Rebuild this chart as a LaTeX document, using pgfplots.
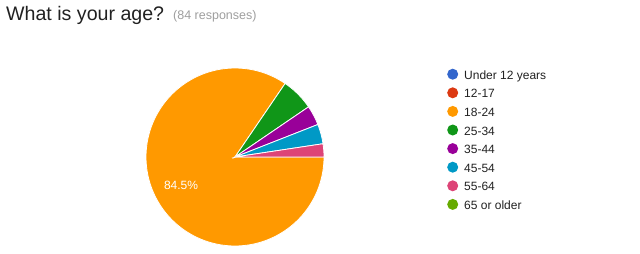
\documentclass[border=0pt]{standalone}
\usepackage{pgfplots}
\usepackage{pgfplotstable}
\pgfplotsset{compat=1.18}
\usepackage{fontspec}
\setmainfont{Liberation Sans}
\definecolor{cA}{HTML}{3366CC}
\definecolor{cB}{HTML}{DC3912}
\definecolor{cC}{HTML}{FF9900}
\definecolor{cD}{HTML}{109618}
\definecolor{cE}{HTML}{990099}
\definecolor{cF}{HTML}{0099C6}
\definecolor{cG}{HTML}{DD4477}
\definecolor{cH}{HTML}{66AA00}
\definecolor{txt}{HTML}{212121}
\definecolor{sub}{HTML}{9E9E9E}

% age group, number of responses
\pgfplotstableread{
label count
Under12 0
12-17 0
18-24 71
25-34 5
35-44 3
45-54 3
55-64 2
65plus 0
}\agedata

\pgfplotstablegetelem{2}{count}\of\agedata \let\nC\pgfplotsretval
\pgfplotstablegetelem{3}{count}\of\agedata \let\nD\pgfplotsretval
\pgfplotstablegetelem{4}{count}\of\agedata \let\nE\pgfplotsretval
\pgfplotstablegetelem{5}{count}\of\agedata \let\nF\pgfplotsretval
\pgfplotstablegetelem{6}{count}\of\agedata \let\nG\pgfplotsretval
\pgfmathsetmacro\tot{\nC+\nD+\nE+\nF+\nG}
\pgfmathsetmacro\aG{360*\nG/\tot}
\pgfmathsetmacro\aF{\aG+360*\nF/\tot}
\pgfmathsetmacro\aE{\aF+360*\nE/\tot}
\pgfmathsetmacro\aD{\aE+360*\nD/\tot}
\pgfmathsetmacro\midC{(\aD+360)/2}
\pgfmathsetmacro\pctC{100*\nC/\tot}

\def\cx{235}
\def\cy{157}
\def\rr{89}

\begin{document}
\begin{tikzpicture}
\begin{axis}[
  scale only axis, width=640pt, height=254pt,
  xmin=0, xmax=640, ymin=0, ymax=254, y dir=reverse,
  hide axis, clip=false,
  legend image code/.code={\path[draw=none,fill=none] (-5.5pt,-3pt) rectangle (5.5pt,9pt);
    \fill[#1, draw=none] (0pt,2pt) circle (5.5pt);},
  legend style={draw=none, fill=none, at={(axis cs:447,67)}, anchor=north west,
    font=\fontsize{12}{14}\selectfont\color{txt},
    nodes={inner sep=0pt, text height=9pt, text depth=3pt},
    row sep=3.6pt, column sep=0pt, inner sep=0pt,
    /tikz/every odd column/.style={column sep=6pt}},
  legend cell align=left,
]
\addplot[fill=cC, draw=white, line width=0.8pt, domain=\aD:360, samples=120, forget plot]
  ({\cx+\rr*cos(x)},{\cy-\rr*sin(x)}) -- (axis cs:\cx,\cy) -- cycle;
\addplot[fill=cD, draw=white, line width=0.8pt, domain=\aE:\aD, samples=20, forget plot]
  ({\cx+\rr*cos(x)},{\cy-\rr*sin(x)}) -- (axis cs:\cx,\cy) -- cycle;
\addplot[fill=cE, draw=white, line width=0.8pt, domain=\aF:\aE, samples=20, forget plot]
  ({\cx+\rr*cos(x)},{\cy-\rr*sin(x)}) -- (axis cs:\cx,\cy) -- cycle;
\addplot[fill=cF, draw=white, line width=0.8pt, domain=\aG:\aF, samples=20, forget plot]
  ({\cx+\rr*cos(x)},{\cy-\rr*sin(x)}) -- (axis cs:\cx,\cy) -- cycle;
\addplot[fill=cG, draw=white, line width=0.8pt, domain=0:\aG, samples=20, forget plot]
  ({\cx+\rr*cos(x)},{\cy-\rr*sin(x)}) -- (axis cs:\cx,\cy) -- cycle;

\node[text=white, font=\fontsize{12}{14}\selectfont] at (axis cs:{\cx+61*cos(\midC)},{\cy-61*sin(\midC)})
  {\pgfmathprintnumber[fixed,precision=1,fixed zerofill,assume math mode=true]{\pctC}\%};

\node[anchor=base west, inner sep=0pt, text=txt, font=\fontsize{19.6}{24}\selectfont] at (axis cs:6,21) {What is your age?};
\node[anchor=base west, inner sep=0pt, text=sub, font=\fontsize{12.5}{15}\selectfont] at (axis cs:173,20) {(84 responses)};

\addlegendimage{cA}\addlegendentry{Under 12 years}
\addlegendimage{cB}\addlegendentry{12-17}
\addlegendimage{cC}\addlegendentry{18-24}
\addlegendimage{cD}\addlegendentry{25-34}
\addlegendimage{cE}\addlegendentry{35-44}
\addlegendimage{cF}\addlegendentry{45-54}
\addlegendimage{cG}\addlegendentry{55-64}
\addlegendimage{cH}\addlegendentry{65 or older}
\end{axis}
\pgfresetboundingbox
\path (0,0) rectangle (640pt,254pt);
\end{tikzpicture}
\end{document}
